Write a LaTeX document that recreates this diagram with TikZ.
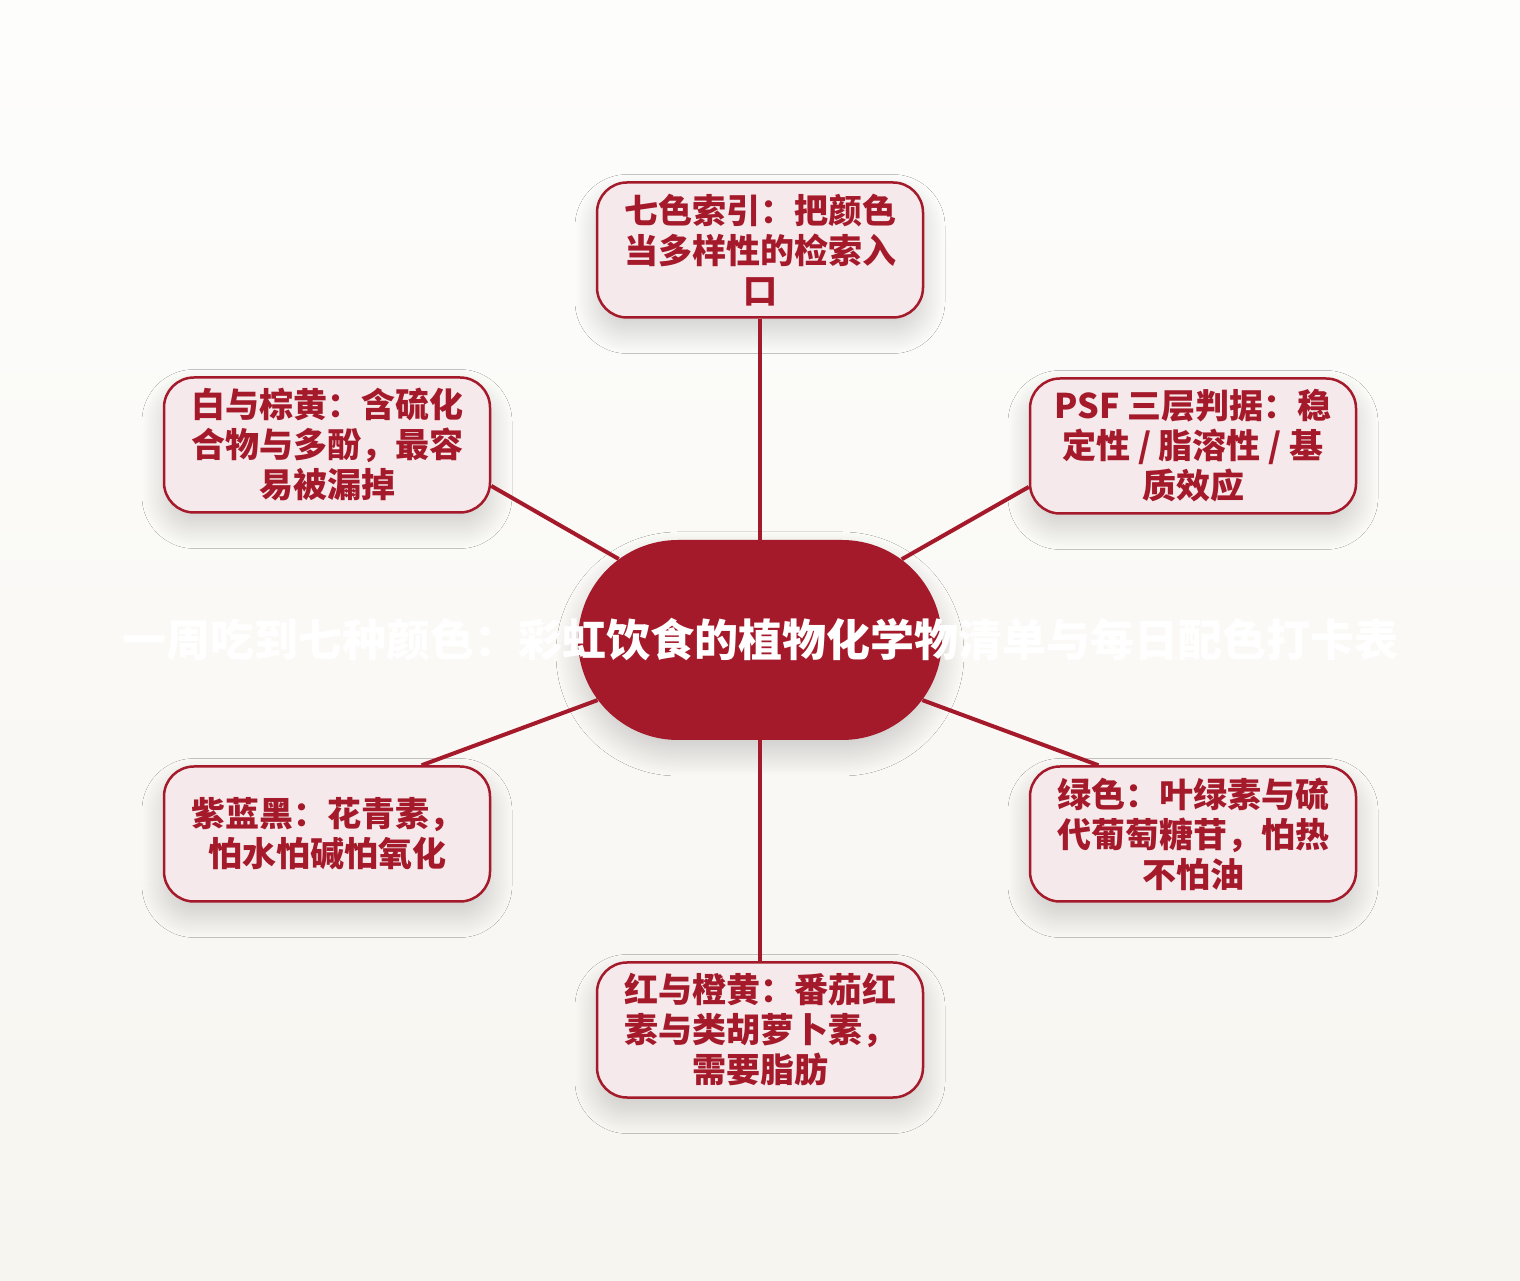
\documentclass[tikz,border=0pt]{standalone}
\usepackage{fontspec}
\setmainfont{Noto Sans CJK SC}
\usetikzlibrary{shapes.misc,shadows.blur}

\definecolor{berry}{HTML}{A51A2A}
\definecolor{blush}{HTML}{F5E9EB}
\definecolor{papertop}{HTML}{FDFDFC}
\definecolor{paperbot}{HTML}{F7F5F0}

\begin{document}
\begin{tikzpicture}[x=0.5pt, y=0.5pt,
	softshade/.style={blur shadow={shadow xshift=0pt, shadow yshift=-7pt, shadow blur radius=11pt, shadow blur steps=30, shadow opacity=18}},
	hub/.style={rounded rectangle, fill=berry, minimum width=182pt, minimum height=100pt, inner sep=0pt, text=white, font=\bfseries\fontsize{22pt}{26pt}\selectfont, softshade},
	leaf/.style={rectangle, rounded corners=15pt, draw=berry, line width=1.25pt, fill=blush, minimum width=163pt, minimum height=67.5pt, inner sep=2pt, text=berry, align=center, font=\bfseries\fontsize{17pt}{20pt}\selectfont, softshade},
	link/.style={draw=berry, line width=2pt}
	]

	% page
	\fill [top color=papertop, bottom color=paperbot] (0,0) rectangle (1520,1280);

	\node (hub) [hub] at (760,640) {\makebox[0pt]{一周吃到七种颜色：彩虹饮食的植物化学物清单与每日配色打卡表}};

		\node (index) [leaf] at (760,1030) {七色索引：把颜色\\当多样性的检索入\\口};
		\node (psf) [leaf] at (1193,834) {PSF 三层判据：稳\\定性 / 脂溶性 / 基\\质效应};
		\node (white) [leaf] at (327,835) {白与棕黄：含硫化\\合物与多酚，最容\\易被漏掉};
		\node (purple) [leaf] at (327,446) {紫蓝黑：花青素，\\怕水怕碱怕氧化};
		\node (green) [leaf] at (1193,446) {绿色：叶绿素与硫\\代葡萄糖苷，怕热\\不怕油};
		\node (red) [leaf] at (760,250) {红与橙黄：番茄红\\素与类胡萝卜素，\\需要脂肪};

	\draw [link] (hub) -- (index);
	\draw [link] (hub) -- (psf.-166);
	\draw [link] (hub) -- (white.-14);
	\draw [link] (hub) -- (purple.36);
	\draw [link] (hub) -- (green.144);
	\draw [link] (hub) -- (red);

\end{tikzpicture}
\end{document}
